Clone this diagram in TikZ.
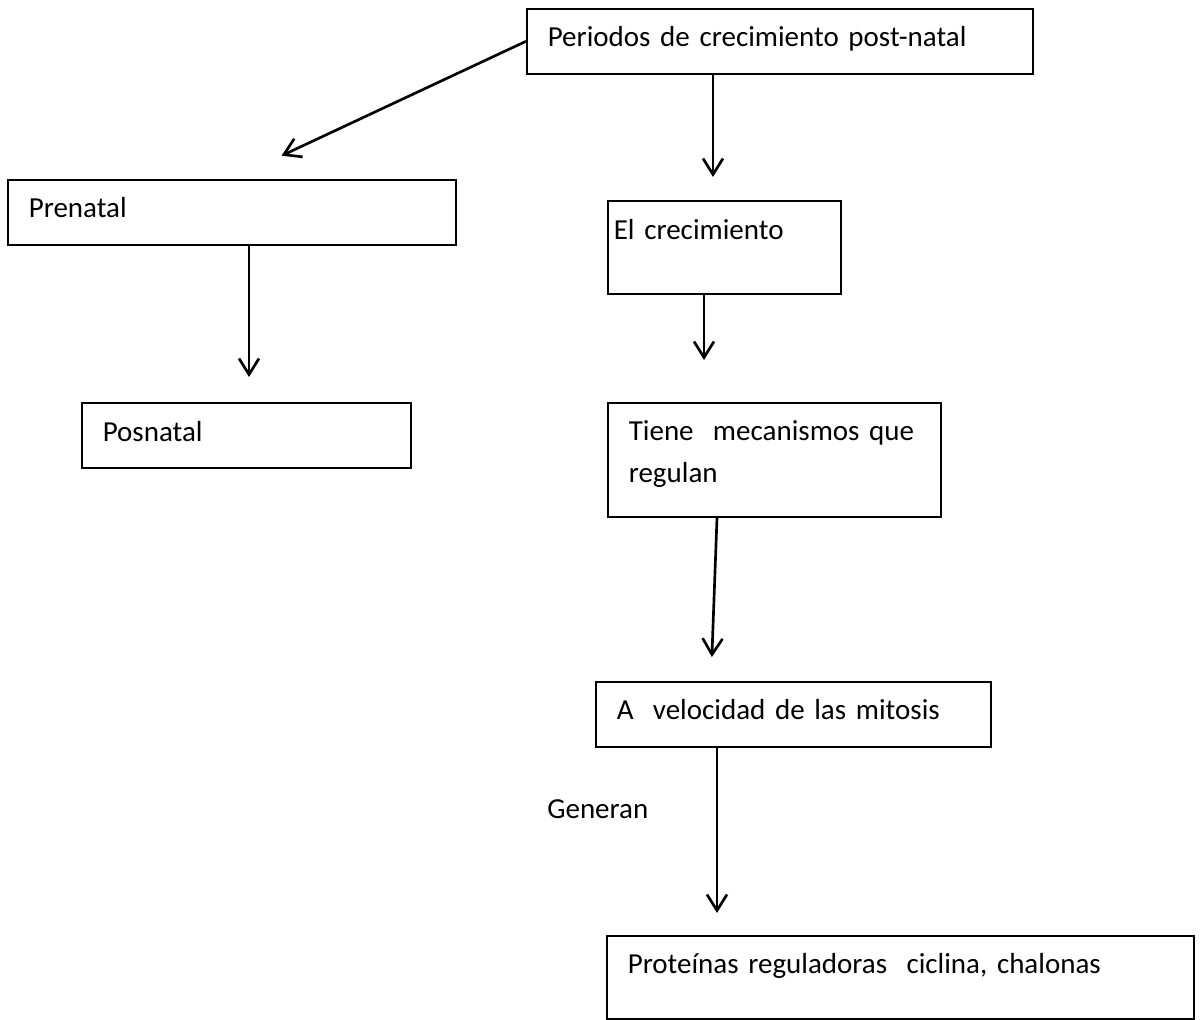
\documentclass[tikz,border=0pt]{standalone}
\usepackage{fontspec}
\setmainfont{Carlito}
\usetikzlibrary{arrows.meta}

\begin{document}
\begin{tikzpicture}[x=0.75pt,y=-0.75pt,
	every node/.style={font=\fontsize{21.75}{31.5}\selectfont},
	caja/.style={draw,line width=1.2pt,anchor=north west,align=left,inner xsep=15.75pt,inner ysep=0pt,text height=28.5pt,text depth=20.25pt},
	flecha/.style={line width=2pt,-{Straight Barb[length=12pt,width=15pt]}}]
	\useasboundingbox (0,0) rectangle (1200,1020);
	
	% cajas
	\node[caja,text width=348pt] (periodos) at (526,8) {Periodos de crecimiento post-natal};
	\node[caja,text width=304.5pt] (prenatal) at (7,179) {Prenatal};
	\node[caja,text width=215.25pt,text height=29.25pt,text depth=19.5pt] (posnatal) at (81,402) {Posnatal};
	\node[caja,inner xsep=4.5pt,text width=165.75pt,text height=29.25pt,text depth=40.5pt] (crec) at (607,200) {El crecimiento};
	\node[caja,text width=218.25pt,text depth=57pt] (tiene) at (607,402) {Tiene~ mecanismos que\\regulan};
	\node[caja,text width=264.75pt] (velocidad) at (595,681) {A~ velocidad de las mitosis};
	\node[caja,text width=408.75pt,text depth=33.75pt] (prote) at (606,935) {Proteínas reguladoras~ ciclina, chalonas};
	\node[anchor=base west,inner sep=0pt] (generan) at (547,818) {Generan};
	
	% flechas
	\draw[flecha,shorten >=41.25pt] (periodos.west) -- (prenatal.north);
	\draw[flecha,shorten >=17.25pt] (periodos.south -| 713,0) -- (crec.north -| 713,0);
	\draw[flecha,shorten >=18.75pt] (prenatal.south -| 249,0) -- (posnatal.north -| 249,0);
	\draw[flecha,shorten >=31.5pt] (crec.south -| 704,0) -- (tiene.north -| 704,0);
	\draw[flecha,shorten >=18pt] (tiene.south -| 717,0) -- (velocidad.north -| 711,0);
	\draw[flecha,shorten >=16.5pt] (velocidad.south -| 717,0) -- (prote.north -| 717,0); %Generan
\end{tikzpicture}
\end{document}
